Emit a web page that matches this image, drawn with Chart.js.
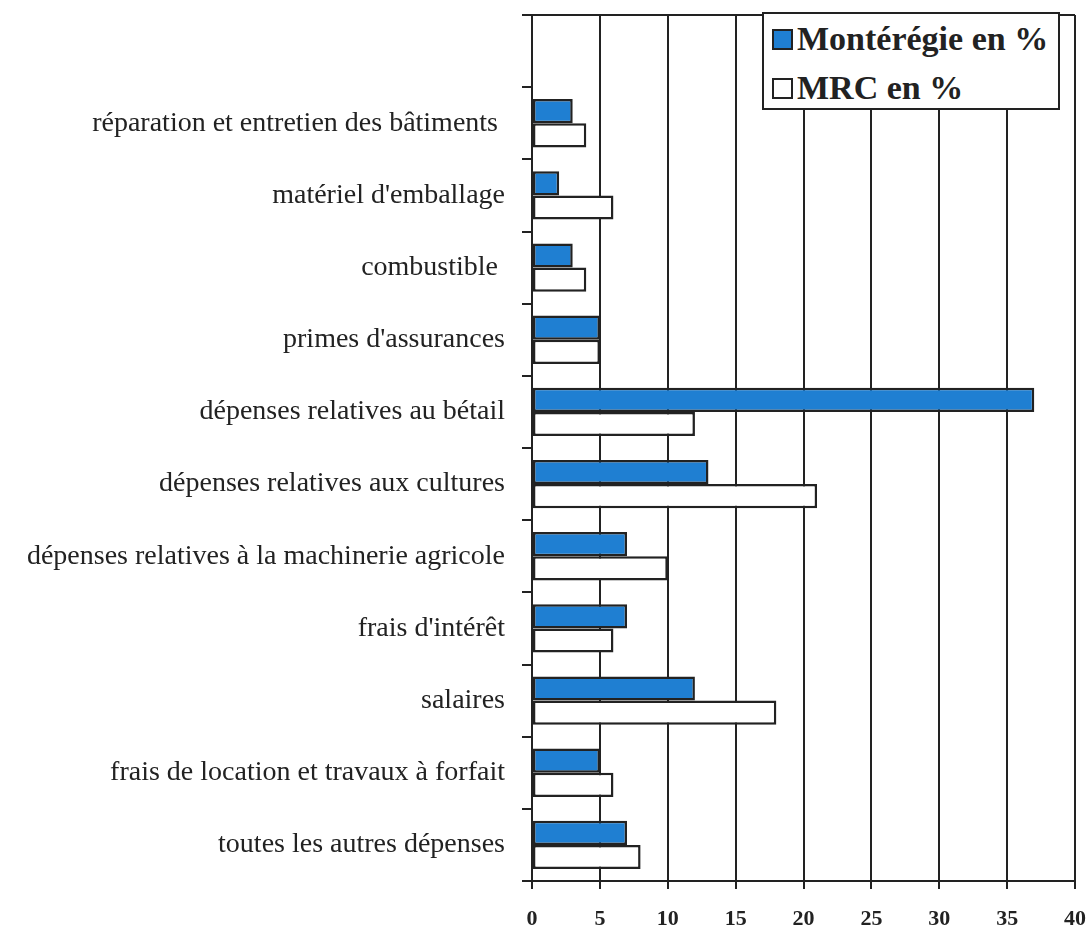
<!DOCTYPE html>
<html>
<head>
<meta charset="utf-8">
<script src="https://cdn.jsdelivr.net/npm/chart.js@4.4.1/dist/chart.umd.min.js"></script>
<style>
  body { margin: 0; background: #fff; }
  #wrap { position: relative; width: 1089px; height: 928px; }
  #legend {
    position: absolute; left: 762px; top: 12px; width: 294px; height: 94px;
    background: #fff; border: 2px solid #222;
    font-family: "Liberation Serif", serif; font-weight: bold; font-size: 34px; color: #222;
  }
  .item { position: absolute; left: 8px; display: flex; align-items: center; white-space: nowrap; }
  .sw { width: 17px; height: 17px; border: 2px solid #222; margin-right: 4px; }
</style>
</head>
<body>
<div id="wrap">
  <canvas id="chart" width="1089" height="928"></canvas>
  <div id="legend"></div>
</div>
<script>
// données (la case du haut reste vide, la légende y est placée)
const categories = [
  '',
  'réparation et entretien des bâtiments ',
  "matériel d'emballage",
  'combustible ',
  "primes d'assurances",
  'dépenses relatives au bétail',
  'dépenses relatives aux cultures',
  'dépenses relatives à la machinerie agricole',
  "frais d'intérêt",
  'salaires',
  'frais de location et travaux à forfait',
  'toutes les autres dépenses'
];
const monteregie = [null, 3, 2, 3, 5, 37, 13, 7, 7, 12, 5, 7];
const mrc = [null, 4, 6, 4, 5, 12, 21, 10, 6, 18, 6, 8];
const seriesNames = ['Montérégie en %', 'MRC en %'];
const xMin = 0, xMax = 40, xStep = 5;

const ink = '#222';

// ligne du haut du cadre
const topBorder = {
  id: 'topBorder',
  afterDatasetsDraw(chart) {
    const { ctx, chartArea: a } = chart;
    ctx.save();
    ctx.strokeStyle = ink;
    ctx.lineWidth = 2;
    ctx.beginPath();
    ctx.moveTo(a.left - 10, a.top);
    ctx.lineTo(a.right, a.top);
    ctx.stroke();
    ctx.restore();
  }
};

const chart = new Chart(document.getElementById('chart'), {
  type: 'bar',
  data: {
    labels: categories,
    datasets: [
      {
        label: seriesNames[0],
        data: monteregie,
        backgroundColor: '#1f7fd2',
        borderColor: ink,
        borderWidth: 2.5,
        borderSkipped: false,
        categoryPercentage: 0.67,
        barPercentage: 1.0
      },
      {
        label: seriesNames[1],
        data: mrc,
        backgroundColor: '#ffffff',
        borderColor: ink,
        borderWidth: 2.5,
        borderSkipped: false,
        categoryPercentage: 0.67,
        barPercentage: 1.0
      }
    ]
  },
  options: {
    indexAxis: 'y',
    responsive: false,
    animation: false,
    layout: { padding: { top: 15, right: 14, left: 0, bottom: 0 } },
    plugins: {
      legend: { display: false },
      tooltip: { enabled: false }
    },
    scales: {
      x: {
        min: xMin,
        max: xMax,
        ticks: {
          stepSize: xStep,
          color: ink,
          padding: 17,
          font: { family: 'Liberation Serif', size: 22, weight: 'bold' }
        },
        grid: { color: ink, lineWidth: 2, tickLength: 8 },
        border: { color: ink, width: 2 },
        afterFit(scale) {
          scale.height = 47;
          scale.paddingLeft = 0;
          scale.paddingRight = 0;
        }
      },
      y: {
        ticks: {
          color: ink,
          padding: 17,
          font: { family: 'Liberation Serif', size: 28 }
        },
        grid: { drawOnChartArea: false, color: ink, lineWidth: 2, tickLength: 10 },
        border: { color: ink, width: 2 },
        afterFit(scale) {
          scale.width = 532;
          scale.paddingTop = 0;
          scale.paddingBottom = 0;
        }
      }
    }
  },
  plugins: [topBorder]
});

// légende maison, placée dans la case vide du haut
const legendDiv = document.getElementById('legend');
chart.data.datasets.forEach((ds, i) => {
  const item = document.createElement('div');
  item.className = 'item';
  item.style.top = (i === 0 ? 6 : 55) + 'px';
  item.innerHTML = `<span class="sw" style="background:${ds.backgroundColor}"></span><span>${ds.label}</span>`;
  legendDiv.appendChild(item);
});
</script>
</body>
</html>
